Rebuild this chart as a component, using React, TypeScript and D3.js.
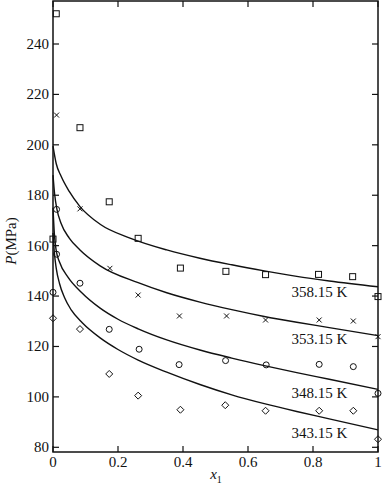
import React from "react";
import * as d3 from "d3";

const xTicks = [0, 0.2, 0.4, 0.6, 0.8, 1];
const xTickLabels = ["0", "0.2", "0.4", "0.6", "0.8", "1"];
const yTicks = [80, 100, 120, 140, 160, 180, 200, 220, 240];

const seriesNames = ["358.15 K", "353.15 K", "348.15 K", "343.15 K"];

// experimental points
const sqX = [0.01, 0.083, 0.173, 0.262, 0, 0.392, 0.532, 0.654, 0.817, 0.922, 1.0];
const sqP = [252, 206.8, 177.4, 162.9, 162.6, 151.1, 149.8, 148.5, 148.6, 147.7, 139.8];
const crX = [0.011, 0.083, 0.175, 0.262, 0.389, 0.534, 0.654, 0.819, 0.924, 1.0];
const crP = [211.8, 174.6, 151, 140.4, 132.1, 132.1, 130.5, 130.5, 130.1, 123.9];
const ciX = [0.011, 0.011, 0, 0.083, 0.173, 0.265, 0.388, 0.531, 0.656, 0.819, 0.924, 1.0];
const ciP = [174.4, 156.6, 141.5, 145.1, 126.8, 118.9, 112.8, 114.4, 112.7, 112.9, 112, 101.4];
const diX = [0, 0.083, 0.173, 0.262, 0.392, 0.53, 0.654, 0.819, 0.924, 1.0];
const diP = [131.2, 126.9, 109.1, 100.5, 94.9, 96.7, 94.5, 94.5, 94.5, 83.2];

// model curves
const c358X = [0, 0.01, 0.025, 0.05, 0.083, 0.145, 0.237, 0.35, 0.452, 0.55, 0.65, 0.75, 0.85, 1.0];
const c358P = [199.5, 192.5, 187.5, 181.5, 175.5, 168.5, 163, 158.3, 155, 152.4, 150, 147.8, 146, 143.7];
const c353X = [0, 0.005, 0.012, 0.025, 0.05, 0.083, 0.145, 0.262, 0.35, 0.452, 0.55, 0.65, 0.75, 0.85, 1.0];
const c353P = [188, 180.5, 174.5, 168.8, 163, 158.3, 152, 145.3, 141.3, 137.6, 134.6, 131.9, 129.6, 127.5, 124.3];
const c348X = [0, 0.004, 0.01, 0.02, 0.046, 0.087, 0.145, 0.2, 0.262, 0.35, 0.452, 0.55, 0.65, 0.75, 0.85, 1.0];
const c348P = [175, 165, 158, 153.5, 147.5, 141.5, 135.2, 130.8, 127, 122.6, 118.6, 115.4, 112.4, 109.6, 107, 103];
const c343X = [0, 0.004, 0.01, 0.02, 0.035, 0.056, 0.09, 0.145, 0.2, 0.262, 0.35, 0.452, 0.55, 0.65, 0.75, 0.85, 1.0];
const c343P = [165, 157.5, 151, 145, 139.5, 134.5, 129.4, 123.4, 118.8, 114.6, 109.8, 104.9, 100.8, 97.3, 94.2, 91.3, 86.9];

const labelP = [141.7, 122.8, 101.7, 85.8];

const FONT = "'Liberation Serif', 'Times New Roman', serif";
const INK = "#111";

export default function App() {
  const L = 53, R = 378, T = 1, B = 452;
  const x = d3.scaleLinear().domain([0, 1]).range([L, R]);
  const y = d3.scaleLinear().domain([80, 240]).range([447.3, 44]);
  const line = d3
    .line<[number, number]>()
    .x((d) => x(d[0]))
    .y((d) => y(d[1]))
    .curve(d3.curveMonotoneX);

  const curves = [
    [c358X, c358P],
    [c353X, c353P],
    [c348X, c348P],
    [c343X, c343P],
  ].map(([xs, ps]) => xs.map((v, i) => [v, ps[i]] as [number, number]));

  const tl = 6;

  return (
    <svg
      width={382}
      height={487}
      style={{ position: "absolute", left: 0, top: 0, background: "#fff" }}
      fontFamily={FONT}
    >
      <rect x={0} y={0} width={382} height={487} fill="#fff" />
      {curves.map((c, i) => (
        <path key={i} d={line(c) || ""} fill="none" stroke={INK} strokeWidth={1.4} />
      ))}
      <rect x={L} y={T} width={R - L} height={B - T} fill="none" stroke={INK} strokeWidth={1.5} />
      {xTicks.map((t, i) => (
        <g key={"x" + i}>
          <line x1={x(t)} x2={x(t)} y1={B} y2={B - tl} stroke={INK} strokeWidth={1.2} />
          <line x1={x(t)} x2={x(t)} y1={T} y2={T + tl} stroke={INK} strokeWidth={1.2} />
          <text x={x(t)} y={467} textAnchor="middle" fontSize={15} fill={INK}>
            {xTickLabels[i]}
          </text>
        </g>
      ))}
      {yTicks.map((t, i) => (
        <g key={"y" + i}>
          <line x1={L} x2={L + tl} y1={y(t)} y2={y(t)} stroke={INK} strokeWidth={1.2} />
          <line x1={R} x2={R - tl} y1={y(t)} y2={y(t)} stroke={INK} strokeWidth={1.2} />
          <text x={49} y={y(t) + 5} textAnchor="end" fontSize={15} fill={INK}>
            {t}
          </text>
        </g>
      ))}
      <text x={216} y={479} textAnchor="middle" fontSize={15} fill={INK}>
        <tspan fontStyle="italic">x</tspan>
        <tspan fontSize={10} dy={4}>1</tspan>
      </text>
      <text transform={`translate(16,241) rotate(-90)`} textAnchor="middle" fontSize={15} fill={INK}>
        <tspan fontStyle="italic">P</tspan>(MPa)
      </text>
      {sqX.map((v, i) => (
        <rect key={"s" + i} x={x(v) - 3} y={y(sqP[i]) - 3} width={6} height={6} fill="none" stroke={INK} strokeWidth={1} />
      ))}
      {crX.map((v, i) => (
        <path
          key={"c" + i}
          d={`M${x(v) - 2.5},${y(crP[i]) - 2.5}L${x(v) + 2.5},${y(crP[i]) + 2.5}M${x(v) - 2.5},${y(crP[i]) + 2.5}L${x(v) + 2.5},${y(crP[i]) - 2.5}`}
          stroke={INK}
          strokeWidth={1}
        />
      ))}
      {ciX.map((v, i) => (
        <circle key={"o" + i} cx={x(v)} cy={y(ciP[i])} r={3} fill="none" stroke={INK} strokeWidth={1} />
      ))}
      {diX.map((v, i) => (
        <path
          key={"d" + i}
          d={`M${x(v)},${y(diP[i]) - 3.5}L${x(v) + 3.5},${y(diP[i])}L${x(v)},${y(diP[i]) + 3.5}L${x(v) - 3.5},${y(diP[i])}Z`}
          fill="none"
          stroke={INK}
          strokeWidth={1}
        />
      ))}
      {seriesNames.map((s, i) => (
        <text key={s} x={x(0.82)} y={y(labelP[i]) + 5} textAnchor="middle" fontSize={15} fill={INK}>
          {s}
        </text>
      ))}
    </svg>
  );
}
